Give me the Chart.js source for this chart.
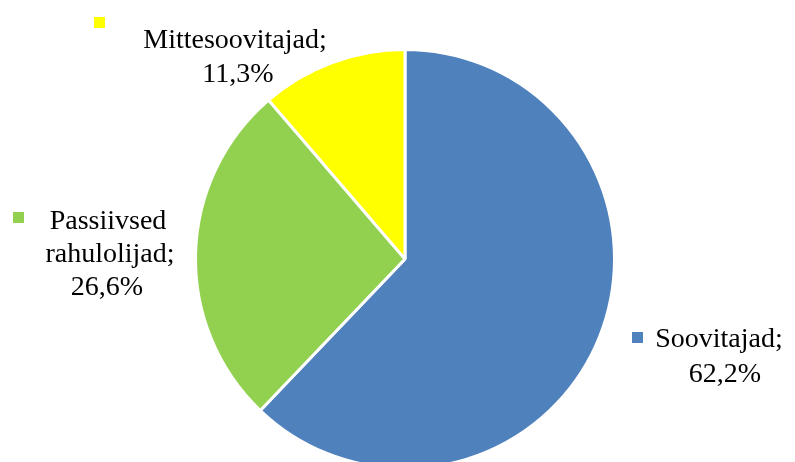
<!DOCTYPE html>
<html>
<head>
<meta charset="utf-8">
<script src="https://cdn.jsdelivr.net/npm/chart.js@4/dist/chart.umd.min.js"></script>
<style>
  html, body { margin: 0; padding: 0; background: #fff; overflow: hidden; }
  #wrap { position: absolute; left: 0; top: 0; width: 795px; height: 480px; }
</style>
</head>
<body>
<div id="wrap"><canvas id="pie"></canvas></div>
<script>
// chart data
const categories = ['Soovitajad', 'Passiivsed rahulolijad', 'Mittesoovitajad'];
const shares = [62.2, 26.6, 11.3];
const sliceColors = ['#4F81BD', '#92D050', '#FFFF00'];

// label layout: lines, marker box and text anchor (px)
const labelLayout = [
  { lines: ['Soovitajad;', '{v}'], marker: [632, 332], xs: [719, 725], y: 347, gap: 35 },
  { lines: ['Passiivsed', 'rahulolijad;', '{v}'], marker: [13, 212], xs: [108, 110, 107], y: 229, gap: 33 },
  { lines: ['Mittesoovitajad;', '{v}'], marker: [94, 17], xs: [235, 238], y: 48, gap: 34 }
];

function fmt(v) {
  return v.toFixed(1).replace('.', ',') + '%';
}

const labelPlugin = {
  id: 'sliceLabels',
  afterDraw(chart) {
    const ctx = chart.ctx;
    const ds = chart.data.datasets[0];
    ctx.save();
    ctx.font = '28px "Liberation Serif", "Times New Roman", serif';
    ctx.textAlign = 'center';
    ctx.textBaseline = 'alphabetic';
    labelLayout.forEach((lab, i) => {
      ctx.fillStyle = ds.backgroundColor[i];
      ctx.fillRect(lab.marker[0], lab.marker[1], 11, 11);
      ctx.fillStyle = '#000';
      lab.lines.forEach((t, k) => {
        const txt = t.replace('{v}', fmt(ds.data[i]));
        ctx.fillText(txt, lab.xs[k], lab.y + k * lab.gap);
      });
    });
    ctx.restore();
  }
};

new Chart(document.getElementById('pie'), {
  type: 'pie',
  data: {
    labels: categories,
    datasets: [{
      data: shares,
      backgroundColor: sliceColors,
      borderColor: '#ffffff',
      borderWidth: 3
    }]
  },
  options: {
    responsive: true,
    maintainAspectRatio: false,
    animation: false,
    layout: { padding: { left: 194, right: 179, top: 48, bottom: 10 } },
    plugins: {
      legend: { display: false },
      tooltip: { enabled: false }
    }
  },
  plugins: [labelPlugin]
});
</script>
</body>
</html>
